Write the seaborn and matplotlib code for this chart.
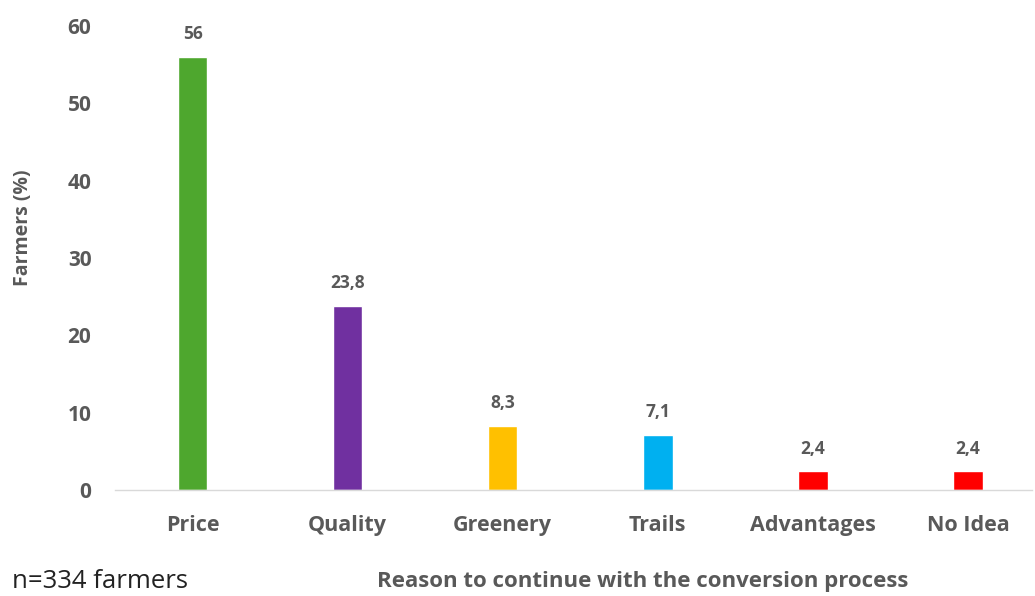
import matplotlib
matplotlib.use("Agg")
import matplotlib.pyplot as plt
import seaborn as sns
import pandas as pd

categories = ["Price", "Quality", "Greenery", "Trails", "Advantages", "No Idea"]
values = [56, 23.8, 8.3, 7.1, 2.4, 2.4]
labels = ["56", "23,8", "8,3", "7,1", "2,4", "2,4"]
colors = ["#4EA72E", "#7030A0", "#FFC000", "#00B0F0", "#FF0000", "#FF0000"]
yticks = [0, 10, 20, 30, 40, 50, 60]

sns.set_theme(style="white")
plt.rcParams['font.family'] = ['Open Sans', 'DejaVu Sans']
gray = "#595959"

df = pd.DataFrame({"cat": categories, "val": values})
fig = plt.figure(figsize=(10.35, 5.96), dpi=100)
ax = fig.add_axes([115/1035, 1-490/596, (1032-115)/1035, (490-26)/596])
sns.barplot(data=df, x="cat", y="val", hue="cat", palette=colors, legend=False,
            width=0.19, ax=ax, saturation=1)
ax.set_ylim(0, 60)
ax.set_xlim(-0.5, 5.5 - 13.5/155)
ax.set_yticks(yticks)
ax.set_yticklabels([str(t) for t in yticks], fontsize=15, fontweight="bold", color=gray)
ax.set_xticks(range(len(categories)))
ax.set_xticklabels(categories, fontsize=15.5, fontweight="bold", color=gray)
ax.tick_params(axis="y", length=0, pad=17)
ax.tick_params(axis="x", length=0, pad=18)
for s in ["top", "right", "left"]:
    ax.spines[s].set_visible(False)
ax.spines["bottom"].set_color("#D9D9D9")
ax.spines["bottom"].set_linewidth(1)
ax.set_xlabel("")
ax.set_ylabel("Farmers (%)", fontsize=14, fontweight="bold", color=gray)
ax.yaxis.set_label_coords(-(115-33)/917, (490-228)/464)

for i, (v, lab) in enumerate(zip(values, labels)):
    ax.annotate(lab, (i, v), xytext=(0, 10), textcoords="offset points",
                ha="center", va="bottom", fontsize=12.5, fontweight="bold", color=gray)

fig.text(12/1035, 1-582/596, "n=334 farmers", fontsize=18.5, color="#222222", va="center", ha="left")
fig.text(643/1035, 1-582/596, "Reason to continue with the conversion process", fontsize=16,
         fontweight="bold", color=gray, va="center", ha="center")

fig.savefig("out.png", dpi=100)
